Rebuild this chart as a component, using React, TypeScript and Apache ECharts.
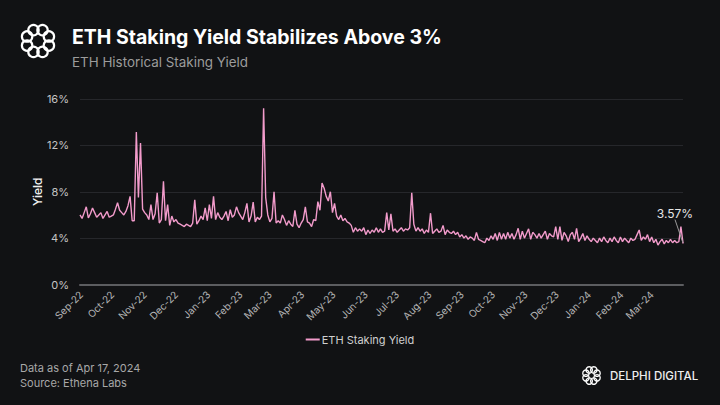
import React, { useEffect, useRef } from "react";
import * as echarts from "echarts";

const startDate = { year: 2022, month: 7, day: 31 };
const endDate = { year: 2024, month: 2, day: 31 };
const stepDays = 2;

const seriesName = "ETH Staking Yield";
const titleText = "ETH Staking Yield Stabilizes Above 3%";
const subtitleText = "ETH Historical Staking Yield";
const footerLines = ["Data as of Apr 17, 2024", "Source: Ethena Labs"];
const brandText = "DELPHI DIGITAL";
const yAxisName = "Yield";
const monthNames = ["Jan", "Feb", "Mar", "Apr", "May", "Jun", "Jul", "Aug", "Sep", "Oct", "Nov", "Dec"];
const yTicks = { min: 0, max: 16, interval: 4 };

// ETH staking yield (%), one reading every 2 days from Aug 31 2022
const yieldSep22 = [6.0, 5.7, 6.2, 6.7, 5.75, 6.1, 6.6, 6.2, 5.8, 6.0, 6.2, 5.7, 6.0, 6.3, 5.8];
const yieldOct22 = [5.9, 6.0, 6.5, 7.05, 6.4, 6.2, 6.0, 6.3, 6.8, 7.6, 5.5, 5.5, 13.15, 7.5, 12.2, 6.5];
const yieldNov22 = [6.2, 6.0, 5.6, 6.9, 5.6, 6.1, 7.9, 5.3, 5.6, 8.9, 5.5, 6.9, 5.1, 5.9, 5.4];
const yieldDec22 = [5.6, 5.3, 5.2, 5.1, 5.0, 5.2, 5.1, 5.0, 5.3, 7.3, 5.2, 5.5, 5.9, 5.6, 6.6, 5.5];
const yieldJan23 = [6.9, 5.7, 7.6, 5.6, 6.2, 5.8, 5.6, 5.9, 6.3, 5.5, 6.45, 5.8, 6.0, 6.7, 6.2];
const yieldFeb23 = [5.9, 5.6, 6.2, 7.0, 5.4, 5.9, 7.1, 5.4, 5.8, 5.6, 5.9, 15.2, 7.5, 6.0];
const yieldMar23 = [5.4, 5.7, 8.0, 5.3, 5.5, 5.3, 6.0, 5.6, 5.1, 5.5, 5.2, 5.0, 6.4, 5.2, 4.9, 5.3];
const yieldApr23 = [5.6, 6.7, 5.4, 5.3, 5.0, 5.6, 5.5, 7.15, 6.4, 8.75, 8.3, 7.6, 7.2, 8.0, 6.2];
const yieldMay23 = [7.0, 5.9, 5.6, 6.0, 5.5, 5.7, 5.4, 5.3, 5.1, 4.5, 4.9, 4.6, 4.8, 4.6, 4.9, 4.3];
const yieldJun23 = [4.7, 4.4, 4.7, 4.5, 4.9, 4.5, 4.8, 4.5, 4.6, 6.2, 4.7, 6.1, 4.6, 4.8, 4.5];
const yieldJul23 = [4.7, 4.9, 4.6, 4.8, 4.7, 4.9, 7.9, 5.2, 4.6, 4.9, 4.6, 4.8, 4.4, 4.7, 4.5, 6.15];
const yieldAug23 = [4.4, 4.6, 4.8, 4.5, 4.6, 5.1, 4.3, 4.7, 4.5, 4.4, 4.6, 4.3, 4.5, 4.1, 4.3, 4.0];
const yieldSep23 = [4.2, 3.9, 4.1, 4.0, 3.8, 4.5, 3.9, 3.8, 3.7, 3.6, 4.0, 3.8, 4.2, 3.9, 4.4];
const yieldOct23 = [3.8, 4.5, 3.9, 4.4, 3.9, 4.5, 4.0, 4.4, 3.9, 4.3, 4.85, 3.9, 4.6, 4.0, 4.4, 4.8];
const yieldNov23 = [3.9, 4.5, 4.3, 4.0, 4.4, 4.0, 4.3, 4.6, 3.9, 4.4, 4.2, 4.1, 5.0, 3.9, 5.0];
const yieldDec23 = [3.8, 4.5, 4.2, 3.7, 4.3, 4.5, 3.9, 4.85, 3.7, 4.0, 4.4, 3.8, 4.2, 3.9, 3.7, 4.0];
const yieldJan24 = [3.8, 3.6, 4.0, 3.7, 4.1, 3.8, 3.6, 4.0, 3.7, 4.1, 3.8, 3.6, 4.1, 3.7, 4.0, 3.8];
const yieldFeb24 = [3.6, 4.0, 3.8, 3.9, 4.3, 4.7, 3.8, 4.1, 3.9, 4.3, 3.7, 4.1, 3.6, 3.9];
const yieldMar24 = [3.4, 3.7, 3.9, 3.5, 3.8, 3.6, 3.9, 3.6, 3.8, 3.6, 3.7, 5.0, 3.57];

const yieldValues = [
  ...yieldSep22, ...yieldOct22, ...yieldNov22, ...yieldDec22, ...yieldJan23, ...yieldFeb23,
  ...yieldMar23, ...yieldApr23, ...yieldMay23, ...yieldJun23, ...yieldJul23, ...yieldAug23,
  ...yieldSep23, ...yieldOct23, ...yieldNov23, ...yieldDec23, ...yieldJan24, ...yieldFeb24,
  ...yieldMar24,
];

const LINE_COLOR = "#f29bcb";
const BG = "#111214";

function logoCircles(cx: number, cy: number, ringR: number, r: number, lw: number) {
  const out: any[] = [];
  for (let k = 0; k < 8; k++) {
    const a = (k * Math.PI) / 4 + Math.PI / 8;
    out.push({
      type: "circle",
      shape: { cx: cx + ringR * Math.cos(a), cy: cy + ringR * Math.sin(a), r },
      style: { fill: "none", stroke: "#ffffff", lineWidth: lw },
      silent: true,
    });
  }
  return out;
}

export default function App() {
  const ref = useRef<HTMLDivElement>(null);
  useEffect(() => {
    if (!ref.current) return;
    const chart = echarts.init(ref.current, null, { renderer: "svg" });
    const data: any[] = yieldValues.map((v, i) => {
      const t = new Date(startDate.year, startDate.month, startDate.day + i * stepDays).getTime();
      if (i === yieldValues.length - 1) {
        return {
          value: [t, v],
          symbol: "circle",
          symbolSize: 1,
          label: {
            show: true,
            formatter: (p: any) => `${p.value[1].toFixed(2)}%`,
            color: "#e6e6e6",
            fontSize: 12,
            fontFamily: "Inter",
            position: "top",
          },
          labelLine: { show: true, lineStyle: { color: "#9a9a9a", width: 1 } },
        };
      }
      return [t, v];
    });

    chart.setOption({
      animation: false,
      backgroundColor: BG,
      textStyle: { fontFamily: "Inter" },
      grid: { left: 80, right: 37, top: 99, bottom: 120.5, containLabel: false },
      legend: {
        data: [seriesName],
        left: "center",
        top: 329,
        icon: "rect",
        itemWidth: 14,
        itemHeight: 2,
        itemGap: 10,
        textStyle: { color: "#d0d0d0", fontSize: 11, fontFamily: "Inter", padding: [0, 0, 0, -3] },
      },
      xAxis: {
        type: "time",
        min: new Date(startDate.year, startDate.month, startDate.day).getTime(),
        max: new Date(endDate.year, endDate.month, endDate.day).getTime(),
        splitNumber: 19,
        maxInterval: 31 * 86400000,
        minInterval: 28 * 86400000,
        axisLine: { show: true, lineStyle: { color: "#5c5d60", width: 2 } },
        axisTick: { show: false },
        splitLine: { show: false },
        axisLabel: {
          rotate: 45,
          margin: 8,
          color: "#b4b4b4",
          fontSize: 10,
          fontFamily: "Inter",
          hideOverlap: false,
          formatter: (val: number) => {
            const d = new Date(val);
            if (d.getDate() !== 1) return "";
            return `${monthNames[d.getMonth()]}-${String(d.getFullYear()).slice(2)}`;
          },
        },
      },
      yAxis: {
        type: "value",
        min: yTicks.min,
        max: yTicks.max,
        interval: yTicks.interval,
        name: yAxisName,
        nameLocation: "middle",
        nameGap: 37,
        nameMoveOverlap: false,
        nameTextStyle: { color: "#f0f0f0", fontSize: 12, fontFamily: "Inter", fontWeight: 500 },
        axisLine: { show: false },
        axisTick: { show: false },
        splitLine: { show: true, lineStyle: { color: "#26272b", width: 1 } },
        axisLabel: { formatter: "{value}%", color: "#c4c4c4", fontSize: 11, margin: 11, fontFamily: "Inter" },
      },
      series: [
        {
          name: seriesName,
          type: "line",
          data,
          showSymbol: true,
          symbol: "none",
          lineStyle: { color: LINE_COLOR, width: 1.4 },
          itemStyle: { color: LINE_COLOR },
          labelLayout: { dx: -8, dy: -18 },
          emphasis: { disabled: true },
        },
      ],
      graphic: [
        ...logoCircles(38, 41, 11.8, 5.2, 2.2),
        {
          type: "text",
          left: 72,
          top: 27,
          style: { text: titleText, fill: "#ffffff", font: "bold 19.5px Inter" },
        },
        {
          type: "text",
          left: 72,
          top: 55,
          style: { text: subtitleText, fill: "#9c9c9c", font: "13.4px Inter" },
        },
        {
          type: "text",
          left: 20,
          top: 362,
          style: { text: footerLines[0], fill: "#a8a8a8", font: "11px Inter" },
        },
        {
          type: "text",
          left: 20,
          top: 377,
          style: { text: footerLines[1], fill: "#a8a8a8", font: "11px Inter" },
        },
        ...logoCircles(591.5, 375.5, 6, 3.2, 1.3),
        {
          type: "text",
          left: 610,
          top: 370,
          style: { text: brandText, fill: "#eeeeee", font: "500 11.5px Inter" },
        },
      ],
    });
    return () => chart.dispose();
  }, []);
  return (
    <div
      ref={ref}
      style={{ position: "absolute", left: 0, top: 0, width: 720, height: 405, background: BG }}
    />
  );
}
